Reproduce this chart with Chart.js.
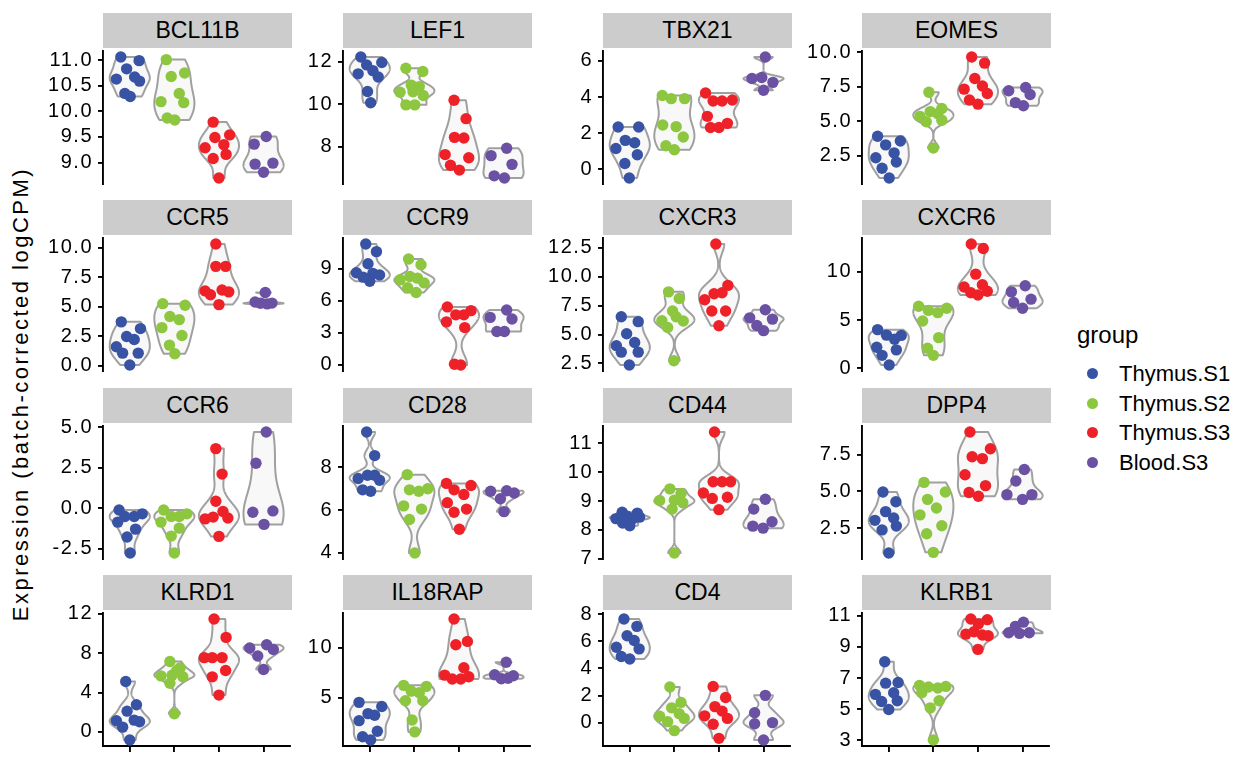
<!DOCTYPE html>
<html>
<head>
<meta charset="utf-8">
<script src="https://cdn.jsdelivr.net/npm/chart.js@4.4.1/dist/chart.umd.min.js"></script>
<style>
  body { margin: 0; background: #fff; font-family: "Liberation Sans", Arial, sans-serif; }
  #page { position: relative; width: 1248px; height: 768px; overflow: hidden; background: #fff; }
  .strip { position: absolute; background: #cccccc; color: #000; font-size: 23px; text-align: center; }
  canvas { position: absolute; }
  .ytitle { position: absolute; font-size: 22px; line-height: 22px; letter-spacing: 2.5px; white-space: nowrap; transform: translate(-50%, -50%) rotate(-90deg); }
  .legtitle { position: absolute; font-size: 24px; line-height: 24px; }
  .legtext { position: absolute; font-size: 22px; line-height: 22px; white-space: nowrap; }
  .legdot { position: absolute; width: 11px; height: 11px; border-radius: 50%; }
</style>
</head>
<body>
<div id="page"></div>
<script>
// groups, in plotting order
const groups = ['Thymus.S1', 'Thymus.S2', 'Thymus.S3', 'Blood.S3'];
const colors = ['#3953a4', '#8dc63f', '#ee2128', '#6a51a3'];

// expression per gene, one array per group
const BCL11B = [[11.06, 10.99, 10.83, 10.63, 10.67, 10.59, 10.35, 10.29],
                [11.01, 10.68, 10.75, 10.35, 10.19, 10.17, 9.87, 9.83],
                [9.79, 9.49, 9.54, 9.29, 9.35, 9.16, 9.08, 8.70],
                [9.51, 9.36, 8.97, 8.99, 8.81]];
const LEF1 = [[12.23, 11.97, 11.86, 11.44, 11.59, 11.29, 10.61, 10.08],
              [11.70, 11.55, 10.91, 10.84, 10.57, 10.60, 10.42, 9.98, 9.98],
              [10.20, 9.33, 8.45, 8.42, 7.64, 7.49, 7.14, 6.91],
              [7.94, 7.59, 7.18, 6.64, 6.54]];
const TBX21 = [[2.34, 2.34, 1.60, 1.47, 1.15, 0.80, 0.32, -0.48],
               [4.08, 3.91, 3.91, 2.45, 2.36, 1.79, 1.30, 1.08],
               [4.22, 3.78, 3.78, 3.83, 2.93, 2.54, 2.31, 2.31],
               [6.21, 5.02, 5.08, 4.81, 4.37]];
const EOMES = [[3.90, 3.55, 3.27, 2.69, 2.34, 2.03, 1.57, 0.87],
               [7.09, 5.34, 5.69, 5.92, 5.53, 4.95, 5.06, 3.04],
               [9.65, 9.21, 8.09, 7.55, 7.32, 7.00, 6.53, 6.23],
               [7.44, 7.20, 6.93, 6.34, 6.11]];
const CCR5 = [[3.73, 3.16, 2.49, 2.24, 1.62, 1.08, 1.08, 0.08],
              [5.27, 5.14, 4.19, 3.92, 3.24, 2.57, 1.76, 1.03],
              [10.32, 8.43, 8.43, 6.35, 6.43, 6.27, 6.03, 5.19],
              [6.22, 5.41, 5.30, 5.32, 5.25]];
const CCR9 = [[11.29, 10.58, 9.45, 8.61, 8.55, 8.40, 8.20, 7.81],
              [9.89, 9.36, 8.26, 8.11, 7.96, 7.66, 7.21, 6.77],
              [5.42, 5.07, 4.68, 4.68, 4.02, 3.49, 0.06, 0.00],
              [5.13, 4.44, 4.29, 3.13, 3.13]];
const CXCR3 = [[6.53, 6.11, 5.06, 4.31, 4.03, 3.47, 3.47, 2.36],
               [8.69, 8.11, 7.03, 6.19, 6.53, 6.17, 5.61, 2.72],
               [12.83, 9.25, 8.00, 8.53, 8.61, 7.03, 7.03, 5.75],
               [7.14, 6.44, 6.33, 5.78, 5.33]];
const CXCR6 = [[4.00, 3.40, 3.43, 3.00, 2.17, 1.90, 1.33, 0.33],
               [6.43, 6.23, 6.00, 5.77, 4.90, 3.17, 2.07, 1.33],
               [12.90, 12.43, 9.77, 8.43, 8.67, 8.00, 7.83, 7.60],
               [8.57, 7.93, 7.17, 6.83, 6.23]];
const CCR6 = [[-0.10, -0.34, -0.50, -0.50, -0.85, -1.28, -1.77, -2.75],
              [-0.10, -0.34, -0.50, -0.50, -0.85, -1.22, -1.71, -2.75],
              [3.68, 2.11, 0.44, -0.65, -0.54, -0.20, -0.60, -1.73],
              [4.70, 2.78, -0.24, -0.16, -0.99]];
const CD28 = [[9.65, 8.55, 7.48, 7.63, 7.63, 7.40, 6.95, 6.88],
              [7.66, 6.95, 6.88, 7.00, 6.20, 6.05, 5.56, 4.00],
              [7.25, 7.15, 6.95, 6.73, 6.35, 6.05, 5.90, 5.11],
              [6.91, 6.88, 6.80, 6.53, 5.93]];
const CD44 = [[8.61, 8.58, 8.39, 8.47, 8.39, 8.44, 8.24, 8.14],
              [9.42, 9.26, 9.02, 9.03, 8.94, 8.72, 7.20],
              [11.39, 9.67, 9.67, 9.67, 9.28, 9.09, 9.13, 8.70],
              [9.06, 8.72, 8.28, 8.13, 8.06]];
const DPP4 = [[4.96, 4.30, 3.63, 3.04, 3.20, 2.65, 2.39, 0.83],
              [5.61, 4.96, 4.46, 3.87, 3.41, 2.67, 2.13, 0.87],
              [9.02, 7.89, 7.35, 7.22, 6.13, 5.39, 4.93, 4.67],
              [6.48, 5.70, 4.78, 4.78, 4.46]];
const KLRD1 = [[5.11, 2.76, 2.11, 1.14, 1.20, 1.04, 0.49, -0.81],
               [7.15, 6.50, 5.69, 5.76, 5.60, 4.94, 6.20, 1.85],
               [11.45, 9.59, 7.54, 7.54, 7.54, 6.24, 5.59, 3.74],
               [8.52, 8.85, 8.36, 7.71, 6.34]];
const IL18RAP = [[4.52, 4.10, 3.39, 3.23, 2.68, 1.61, 1.06, 0.74],
                 [6.23, 6.13, 5.65, 5.48, 4.68, 4.68, 2.74, 1.55],
                 [12.90, 10.32, 10.65, 8.00, 7.26, 6.87, 6.87, 7.10],
                 [8.55, 7.30, 7.20, 6.90, 6.95]];
const CD4 = [[7.64, 7.10, 6.41, 6.06, 5.56, 5.44, 4.88, 4.69],
             [2.63, 1.49, 1.09, 0.66, 0.47, 0.31, 0.07, -0.59],
             [2.67, 1.85, 1.18, 0.85, 0.50, 0.31, -0.12, -1.16],
             [2.01, 0.73, -0.09, 0.00, -1.28]];
const KLRB1 = [[8.05, 6.67, 6.71, 5.95, 6.05, 5.49, 5.54, 4.98],
               [6.53, 6.42, 6.36, 6.46, 6.05, 5.54, 5.08, 3.02],
               [10.79, 10.75, 10.48, 9.82, 9.97, 9.76, 9.72, 8.84],
               [10.59, 10.32, 9.91, 9.87, 9.91]];

// horizontal jitter of each point, in category units
const BCL11B_jit = [[-0.2, 0.21, -0.07, -0.3, 0.11, 0.22, -0.11, 0.01], [-0.18, -0.07, 0.23, 0.11, -0.3, 0.21, -0.16, 0.01], [-0.13, -0.09, 0.24, -0.31, 0.11, 0.16, -0.13, 0], [0.06, -0.21, -0.19, 0.21, 0]];
const LEF1_jit = [[-0.2, 0.27, -0.07, -0.26, 0.07, 0.19, -0.05, 0.02], [-0.19, 0.19, -0.07, 0.11, -0.32, -0.03, 0.2, -0.19, 0.01], [-0.11, 0.16, -0.1, 0.11, -0.31, 0.22, -0.19, 0.01], [0.07, -0.28, 0.19, -0.21, 0.02]];
const TBX21_jit = [[-0.26, 0.2, -0.1, 0.11, -0.31, 0.17, -0.11, -0.01], [-0.27, -0.07, 0.23, -0.26, 0.04, 0.2, -0.19, 0], [-0.3, -0.13, 0.07, 0.3, -0.26, 0.19, -0.19, 0], [0.04, -0.26, -0.04, 0.21, 0]];
const EOMES_jit = [[-0.25, 0.26, -0.07, 0.12, -0.29, 0.17, -0.15, 0.01], [-0.1, -0.3, -0.07, 0.19, 0.1, -0.16, 0.19, 0], [-0.14, 0.15, -0.07, 0.1, -0.31, 0.21, -0.19, 0], [0.07, -0.31, 0.17, -0.16, 0.02]];
const CCR5_jit = [[-0.19, 0.24, -0.07, 0.1, -0.3, -0.16, 0.19, 0], [-0.26, 0.24, -0.1, 0.11, -0.28, 0.17, -0.11, 0.01], [-0.07, -0.07, 0.15, -0.31, 0.07, 0.22, -0.19, 0], [0.04, -0.19, -0.07, 0.19, 0.08]];
const CCR9_jit = [[-0.09, 0.15, -0.04, -0.3, 0.07, 0.22, -0.15, 0], [-0.13, 0.15, -0.1, 0.07, -0.32, 0.22, -0.15, 0.04], [-0.26, 0.27, -0.07, 0.11, -0.28, 0.13, -0.1, 0.04], [0.07, -0.3, 0.19, -0.15, 0.02]];
const CXCR3_jit = [[-0.19, 0.19, -0.07, 0.11, -0.3, -0.19, 0.19, -0.01], [-0.13, 0.11, -0.04, -0.28, 0.04, 0.2, -0.15, -0.01], [-0.07, 0.2, -0.32, -0.11, 0.07, 0.15, -0.16, 0], [0.04, -0.31, 0.2, -0.15, 0]];
const CXCR6_jit = [[-0.25, 0.28, -0.05, 0.13, -0.27, 0.17, -0.15, 0.01], [-0.33, 0.3, -0.11, 0.1, -0.24, 0.12, -0.13, 0], [-0.15, 0.12, -0.05, -0.31, 0.1, 0.21, -0.16, 0], [0.06, -0.25, 0.19, -0.2, 0]];
const CCR6_jit = [[-0.24, 0.28, -0.11, 0.1, -0.27, 0.13, -0.06, 0.01], [-0.24, 0.28, -0.07, 0.11, -0.3, 0.11, -0.07, 0], [-0.07, 0.07, -0.07, -0.31, -0.13, 0.09, 0.2, 0], [0.06, -0.17, -0.24, 0.21, 0.01]];
const CD28_jit = [[-0.07, 0.11, -0.26, -0.05, 0.11, 0.22, -0.16, 0.02], [-0.16, -0.11, 0.1, 0.3, -0.24, 0.16, -0.11, 0.01], [-0.28, 0.27, -0.11, 0.11, -0.26, 0.17, -0.11, 0.01], [0.07, -0.29, 0.24, -0.07, 0.01]];
const CD44_jit = [[-0.17, 0.17, -0.31, -0.06, 0.07, 0.22, -0.16, 0], [-0.1, 0.15, -0.33, 0, 0.19, -0.05, 0], [-0.1, -0.13, 0.07, 0.26, -0.35, -0.15, 0.19, 0], [0.04, -0.22, 0.19, -0.24, -0.01]];
const DPP4_jit = [[-0.13, 0.16, -0.07, -0.31, 0.11, 0.17, -0.15, 0], [-0.21, 0.27, -0.13, 0.07, -0.3, 0.19, -0.15, 0], [-0.18, 0.28, -0.13, 0.1, -0.29, 0.17, -0.2, 0.01], [0.04, -0.15, -0.35, 0.21, 0]];
const KLRD1_jit = [[-0.09, 0.15, -0.06, -0.3, 0.1, 0.22, -0.16, 0], [-0.1, 0.13, -0.3, -0.05, 0.19, -0.1, 0.05, 0], [-0.11, 0.16, -0.33, -0.15, 0.07, 0.15, -0.15, 0], [-0.31, 0.07, 0.22, -0.13, 0]];
const IL18RAP_jit = [[-0.24, 0.27, -0.04, 0.11, -0.24, 0.17, -0.16, 0.02], [-0.24, 0.27, -0.07, 0.11, -0.2, 0.19, -0.05, 0.01], [-0.11, -0.07, 0.19, 0.11, -0.32, -0.15, 0.04, 0.22], [0.06, -0.2, 0.22, -0.05, 0.1]];
const CD4_jit = [[-0.13, 0.16, -0.06, 0.1, -0.3, 0.21, -0.19, 0], [-0.1, 0.15, -0.06, 0.11, -0.33, 0.22, -0.15, 0], [-0.13, 0.15, -0.09, 0.07, -0.32, 0.19, -0.13, 0], [0.04, -0.2, -0.2, 0.2, 0]];
const KLRB1_jit = [[-0.09, -0.07, 0.21, -0.3, 0.11, -0.16, 0.19, 0], [-0.31, -0.11, 0.1, 0.28, -0.26, 0.13, -0.07, 0], [-0.16, 0.21, 0.01, -0.27, -0.09, 0.1, 0.23, 0], [0.02, -0.16, -0.31, -0.07, 0.15]];

// y tick labels per panel
const BCL11B_ticks = ['9.0', '9.5', '10.0', '10.5', '11.0'];
const LEF1_ticks = ['8', '10', '12'];
const TBX21_ticks = ['0', '2', '4', '6'];
const EOMES_ticks = ['2.5', '5.0', '7.5', '10.0'];
const CCR5_ticks = ['0.0', '2.5', '5.0', '7.5', '10.0'];
const CCR9_ticks = ['0', '3', '6', '9'];
const CXCR3_ticks = ['2.5', '5.0', '7.5', '10.0', '12.5'];
const CXCR6_ticks = ['0', '5', '10'];
const CCR6_ticks = ['-2.5', '0.0', '2.5', '5.0'];
const CD28_ticks = ['4', '6', '8'];
const CD44_ticks = ['7', '8', '9', '10', '11'];
const DPP4_ticks = ['2.5', '5.0', '7.5'];
const KLRD1_ticks = ['0', '4', '8', '12'];
const IL18RAP_ticks = ['5', '10'];
const CD4_ticks = ['0', '2', '4', '6', '8'];
const KLRB1_ticks = ['3', '5', '7', '9', '11'];

const genes = ['BCL11B', 'LEF1', 'TBX21', 'EOMES', 'CCR5', 'CCR9', 'CXCR3', 'CXCR6',
               'CCR6', 'CD28', 'CD44', 'DPP4', 'KLRD1', 'IL18RAP', 'CD4', 'KLRB1'];
const values = [BCL11B, LEF1, TBX21, EOMES, CCR5, CCR9, CXCR3, CXCR6, CCR6, CD28, CD44, DPP4, KLRD1, IL18RAP, CD4, KLRB1];
const jitter = [BCL11B_jit, LEF1_jit, TBX21_jit, EOMES_jit, CCR5_jit, CCR9_jit, CXCR3_jit, CXCR6_jit, CCR6_jit, CD28_jit, CD44_jit, DPP4_jit, KLRD1_jit, IL18RAP_jit, CD4_jit, KLRB1_jit];
const yTicks = [BCL11B_ticks, LEF1_ticks, TBX21_ticks, EOMES_ticks, CCR5_ticks, CCR9_ticks, CXCR3_ticks, CXCR6_ticks, CCR6_ticks, CD28_ticks, CD44_ticks, DPP4_ticks, KLRD1_ticks, IL18RAP_ticks, CD4_ticks, KLRB1_ticks];

// layout
const colX = [103, 343, 603, 862];
const rowY = [13, 200, 388, 575];
const panelW = 189, stripH = 35, plotH = 139;
const axisW = 70, padV = 14;
const fontFam = '"Liberation Sans", Arial, sans-serif';

const page = document.getElementById('page');

// gaussian kde, bandwidth as R's bw.nrd0, trimmed to data range
function quantile(s, p) {
  const h = (s.length - 1) * p, lo = Math.floor(h);
  const hi = Math.min(lo + 1, s.length - 1);
  return s[lo] + (h - lo) * (s[hi] - s[lo]);
}
function bwNrd0(v) {
  const n = v.length;
  const m = v.reduce((a, b) => a + b, 0) / n;
  const sd = Math.sqrt(v.reduce((a, b) => a + (b - m) * (b - m), 0) / (n - 1));
  const s = [...v].sort((a, b) => a - b);
  let lo = Math.min(sd, (quantile(s, 0.75) - quantile(s, 0.25)) / 1.34);
  if (!(lo > 0)) lo = sd || Math.abs(s[0]) || 1;
  return 0.9 * lo * Math.pow(n, -0.2);
}
function kde(v) {
  const bw = bwNrd0(v);
  const lo = Math.min(...v), hi = Math.max(...v);
  const out = [];
  const N = 200;
  for (let i = 0; i <= N; i++) {
    const yy = lo + (hi - lo) * i / N;
    let d = 0;
    v.forEach(xi => { const z = (yy - xi) / bw; d += Math.exp(-0.5 * z * z); });
    out.push([yy, d / (v.length * bw * Math.sqrt(2 * Math.PI))]);
  }
  return out;
}

// violins, each scaled to the same maximum width (scale = "width")
const violinPlugin = {
  id: 'violin',
  beforeDraw(chart) {
    chart.ctx.letterSpacing = '1.5px';
  },
  beforeDatasetsDraw(chart) {
    const ctx = chart.ctx;
    const xs = chart.scales.x, ys = chart.scales.y;
    const dens = chart.data.datasets.map(ds => kde(ds.data.map(p => p.y)));
    ctx.save();
    dens.forEach((d, g) => {
      const cx = g + 1;
      let maxD = 0;
      d.forEach(p => { if (p[1] > maxD) maxD = p[1]; });
      ctx.beginPath();
      d.forEach((p, i) => {
        const px = xs.getPixelForValue(cx + 0.45 * p[1] / maxD);
        const py = ys.getPixelForValue(p[0]);
        if (i) ctx.lineTo(px, py); else ctx.moveTo(px, py);
      });
      for (let i = d.length - 1; i >= 0; i--) {
        ctx.lineTo(xs.getPixelForValue(cx - 0.45 * d[i][1] / maxD), ys.getPixelForValue(d[i][0]));
      }
      ctx.closePath();
      ctx.fillStyle = '#f8f8f8';
      ctx.fill();
      ctx.strokeStyle = '#a0a0a0';
      ctx.lineWidth = 2;
      ctx.lineJoin = 'round';
      ctx.stroke();
    });
    ctx.restore();
  }
};

genes.forEach((gene, k) => {
  const row = Math.floor(k / 4), col = k % 4;
  const bottomRow = row === 3;
  const left = colX[col], top = rowY[row];

  const strip = document.createElement('div');
  strip.className = 'strip';
  strip.style.left = left + 'px';
  strip.style.top = top + 'px';
  strip.style.width = panelW + 'px';
  strip.style.height = stripH + 'px';
  strip.style.lineHeight = stripH + 'px';
  strip.textContent = gene;
  page.appendChild(strip);

  const cv = document.createElement('canvas');
  const cw = axisW + panelW + 4, ch = padV + plotH + padV;
  cv.width = cw; cv.height = ch;
  cv.style.left = (left - axisW) + 'px';
  cv.style.top = (top + stripH - padV) + 'px';
  cv.style.width = cw + 'px'; cv.style.height = ch + 'px';
  page.appendChild(cv);

  const all = [].concat(...values[k]);
  const lo = Math.min(...all), hi = Math.max(...all);
  const ext = (hi - lo) * 0.05;
  const tickVals = yTicks[k].map(parseFloat);

  const datasets = groups.map((g, gi) => ({
    label: g,
    data: values[k][gi].map((v, i) => ({ x: gi + 1 + jitter[k][gi][i], y: v })),
    backgroundColor: colors[gi],
    borderWidth: 0,
    pointRadius: 5.7,
    pointHoverRadius: 5.7,
    clip: false,
    order: 3 - gi
  }));

  new Chart(cv, {
    type: 'scatter',
    data: { datasets },
    plugins: [violinPlugin],
    options: {
      responsive: false,
      animation: false,
      events: [],
      layout: { padding: { left: 0, right: 4, top: padV, bottom: bottomRow ? padV - 6 : padV } },
      plugins: { legend: { display: false }, tooltip: { enabled: false } },
      scales: {
        x: {
          type: 'linear',
          min: 0.4, max: 4.6,
          display: bottomRow,
          afterBuildTicks: s => { s.ticks = [1, 2, 3, 4].map(v => ({ value: v })); },
          border: { display: true, color: '#000', width: 1.9 },
          grid: { display: true, drawOnChartArea: false, drawTicks: true, tickLength: 6, color: '#000', lineWidth: 1.9 },
          ticks: { display: false }
        },
        y: {
          type: 'linear',
          min: lo - ext, max: hi + ext,
          afterBuildTicks: s => { s.ticks = tickVals.map(v => ({ value: v })); },
          afterFit: s => { s.width = axisW; },
          border: { display: true, color: '#000', width: 1.9 },
          grid: { display: true, drawOnChartArea: false, drawTicks: true, tickLength: 5, color: '#000', lineWidth: 1.9 },
          ticks: {
            autoSkip: false,
            padding: 5,
            color: '#000',
            font: { size: 20, family: fontFam },
            callback: (v, i) => yTicks[k][i]
          }
        }
      }
    }
  });
});

// axis title
const yt = document.createElement('div');
yt.className = 'ytitle';
yt.style.left = '21px';
yt.style.top = '394px';
yt.textContent = 'Expression (batch-corrected logCPM)';
page.appendChild(yt);

// legend
const lt = document.createElement('div');
lt.className = 'legtitle';
lt.style.left = '1077px';
lt.style.top = '323px';
lt.textContent = 'group';
page.appendChild(lt);
const legY = [373, 403, 432, 462];
groups.forEach((g, i) => {
  const d = document.createElement('div');
  d.className = 'legdot';
  d.style.background = colors[i];
  d.style.left = (1092 - 5.5) + 'px';
  d.style.top = (legY[i] - 5.5) + 'px';
  page.appendChild(d);
  const t = document.createElement('div');
  t.className = 'legtext';
  t.style.left = '1119px';
  t.style.top = (legY[i] - 10) + 'px';
  t.textContent = g;
  page.appendChild(t);
});
</script>
</body>
</html>
